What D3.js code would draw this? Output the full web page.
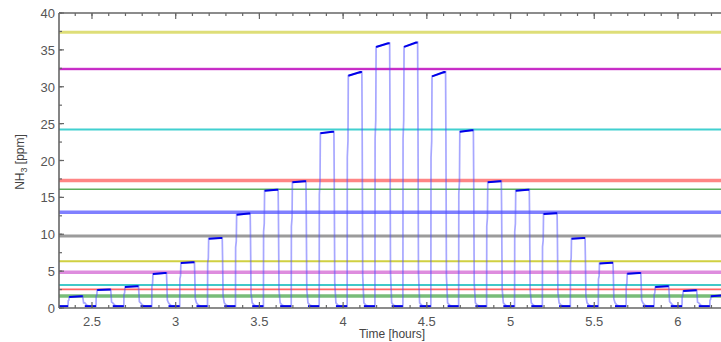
<!DOCTYPE html>
<html><head><meta charset="utf-8">
<script src="https://cdn.jsdelivr.net/npm/d3@7"></script>
<style>body{margin:0;background:#fff}svg{display:block}</style>
</head><body>
<script>
// ---- data ----
const xTicksMajor = [2.5, 3, 3.5, 4, 4.5, 5, 5.5, 6];
const xTickLabels = ["2.5", "3", "3.5", "4", "4.5", "5", "5.5", "6"];
const yTicksMajor = [0, 5, 10, 15, 20, 25, 30, 35, 40];
const yTickLabels = ["0", "5", "10", "15", "20", "25", "30", "35", "40"];
// pulse rise times (hours), plateau start and end levels (ppm)
const pulseStart = [2.357, 2.524, 2.690, 2.857, 3.024, 3.190, 3.357, 3.524, 3.690, 3.857, 4.024, 4.190,
                    4.357, 4.524, 4.690, 4.857, 5.024, 5.190, 5.357, 5.524, 5.690, 5.857, 6.024, 6.190];
const pulseLevelA = [1.5, 2.45, 2.85, 4.6, 6.1, 9.4, 12.65, 15.9, 17.05, 23.7, 31.5, 35.4,
                     35.4, 31.4, 23.9, 17.05, 15.9, 12.75, 9.4, 6.05, 4.65, 2.85, 2.3, 1.6];
const pulseLevelB = [1.6, 2.5, 2.95, 4.75, 6.2, 9.5, 12.8, 16.05, 17.2, 23.9, 32.0, 35.9,
                     36.0, 32.0, 24.1, 17.2, 16.05, 12.85, 9.5, 6.15, 4.75, 2.95, 2.4, 1.7];
const pulseWidth = 0.088;
const baseline = 0.25;
// reference levels (ppm) and colours
const refLevels = [37.4, 32.4, 24.2, 17.3, 16.1, 12.97, 9.76, 6.33, 4.84, 3.12, 2.53, 1.63];
const refColors = ["#d8d860", "#d040d0", "#20c8c8", "#ff7070", "#40a040", "#6a6aff", "#8a8a8a",
                   "#c8c820", "#d878d8", "#20c0c0", "#ff4a4a", "#60b060"];
const refWidths = [3, 2.5, 2, 3.5, 1.6, 3.5, 3, 2, 3.5, 2.2, 1.6, 3.5];

// ---- layout ----
const W = 721, H = 342;
const L = 59, R = 721, T = 13, B = 308;
const svg = d3.select("body").append("svg").attr("width", W).attr("height", H);
const x = d3.scaleLinear().domain([2.303, 6.257]).range([L, R]);
const y = d3.scaleLinear().domain([0, 40]).range([B, T]);

// reference lines
const g = svg.append("g");
refLevels.forEach((v, i) => {
  g.append("line").attr("x1", L).attr("x2", R).attr("y1", y(v)).attr("y2", y(v))
    .attr("stroke", refColors[i]).attr("stroke-width", refWidths[i]).attr("stroke-opacity", 0.85);
});
g.append("line").attr("x1", L).attr("x2", R).attr("y1", y(refLevels[1])).attr("y2", y(refLevels[1]))
  .attr("stroke", "#b800b8").attr("stroke-width", 1);

// signal
const pts = [];
const plateaus = [];
const bases = [];
let prevEnd = x.domain()[0];
pulseStart.forEach((t0, i) => {
  const La = pulseLevelA[i], Lb = pulseLevelB[i];
  bases.push([[prevEnd, baseline], [t0, baseline]]);
  pts.push([t0, baseline]);
  pts.push([t0 + 0.001, La * 0.65]);
  pts.push([t0 + 0.005, La * 0.72]);
  pts.push([t0 + 0.007, La]);
  pts.push([t0 + pulseWidth, Lb]);
  plateaus.push([[t0 + 0.007, La], [t0 + pulseWidth - 0.01, Lb], [t0 + pulseWidth, Lb]]);
  const tf = t0 + pulseWidth;
  pts.push([tf + 0.002, Lb * 0.72]);
  pts.push([tf + 0.005, Lb * 0.12 + 0.5]);
  pts.push([tf + 0.012, 0.7]);
  pts.push([tf + 0.025, 0.35]);
  pts.push([tf + 0.04, baseline]);
  prevEnd = tf + 0.012;
  if (i < pulseStart.length - 1) pts.push([pulseStart[i + 1], baseline]);
});
const line = d3.line().x(d => x(d[0])).y(d => y(d[1]));
svg.append("clipPath").attr("id", "c").append("rect")
  .attr("x", L).attr("y", T).attr("width", R - L).attr("height", B - T + 2);
const sg = svg.append("g").attr("clip-path", "url(#c)");
sg.append("path").datum([[x.domain()[0], baseline]].concat(pts)).attr("d", line)
  .attr("fill", "none").attr("stroke", "#5050ff").attr("stroke-opacity", 0.5).attr("stroke-width", 1.7);
plateaus.forEach(p => sg.append("path").datum(p).attr("d", line)
  .attr("fill", "none").attr("stroke", "#0000e8").attr("stroke-width", 2));
bases.forEach(p => sg.append("path").datum(p).attr("d", line)
  .attr("fill", "none").attr("stroke", "#0000e8").attr("stroke-width", 2));

// axes
const axCol = "#666";
const xMinor = d3.range(23, 63).map(v => v / 10);
const yMinor = d3.range(0, 17).map(v => v * 2.5);
function tickLines(sel, vals, len, side) {
  vals.forEach(v => {
    if (side === "bottom") sel.append("line").attr("x1", x(v)).attr("x2", x(v)).attr("y1", B).attr("y2", B - len);
    if (side === "top") sel.append("line").attr("x1", x(v)).attr("x2", x(v)).attr("y1", T).attr("y2", T + len);
    if (side === "left") sel.append("line").attr("x1", L).attr("x2", L + len).attr("y1", y(v)).attr("y2", y(v));
  });
}
const ax = svg.append("g").attr("stroke", axCol).attr("stroke-width", 1.2);
const xm = xMinor.filter(v => x(v) >= L && x(v) <= R);
tickLines(ax, xm, 3, "bottom");
tickLines(ax, xm, 3, "top");
tickLines(ax, xTicksMajor, 6, "bottom");
tickLines(ax, xTicksMajor, 6, "top");
tickLines(ax, yMinor, 3, "left");
tickLines(ax, yTicksMajor, 5, "left");
ax.append("line").attr("x1", L).attr("x2", R).attr("y1", B).attr("y2", B).attr("stroke-width", 1.6);
ax.append("line").attr("x1", L).attr("x2", R).attr("y1", T).attr("y2", T).attr("stroke-width", 1.6);
ax.append("line").attr("x1", L).attr("x2", L).attr("y1", T).attr("y2", B).attr("stroke-width", 1.6);

const txt = svg.append("g").attr("font-family", "Liberation Sans, Arial, sans-serif").attr("fill", "#555");
xTicksMajor.forEach((v, i) => txt.append("text").attr("x", x(v)).attr("y", B + 18)
  .attr("text-anchor", "middle").attr("font-size", 13).text(xTickLabels[i]));
yTicksMajor.forEach((v, i) => txt.append("text").attr("x", L - 4).attr("y", y(v) + 5)
  .attr("text-anchor", "end").attr("font-size", 13).text(yTickLabels[i]));
txt.append("text").attr("x", 392).attr("y", 338).attr("text-anchor", "middle").attr("font-size", 12)
  .attr("fill", "#444").text("Time [hours]");
const yl = txt.append("text").attr("transform", "translate(24,162) rotate(-90)")
  .attr("text-anchor", "middle").attr("font-size", 12).attr("fill", "#444");
yl.append("tspan").text("NH");
yl.append("tspan").attr("font-size", 9).attr("dy", 3).text("3");
yl.append("tspan").attr("dy", -3).text(" [ppm]");
</script>
</body></html>
